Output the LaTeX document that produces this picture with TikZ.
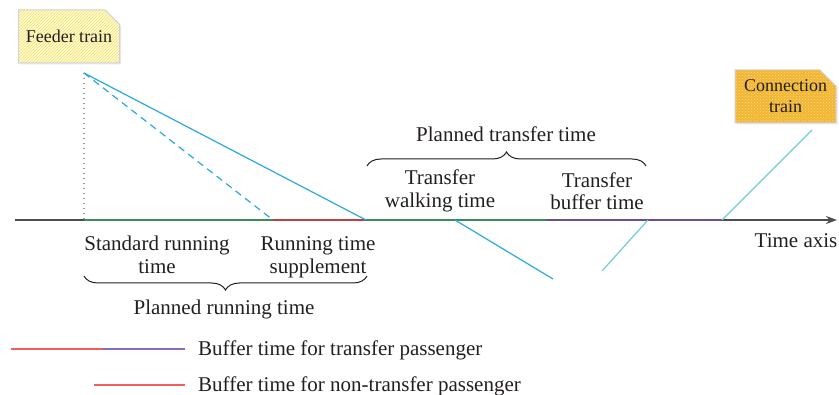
\documentclass[tikz,border=0pt]{standalone}
\usepackage{fontspec}
\setmainfont{Liberation Serif}
\usetikzlibrary{arrows.meta, positioning, shapes.misc, patterns, shadows, decorations.pathreplacing}

\definecolor{ink}{HTML}{231F20}
\definecolor{axisgray}{HTML}{4D4D4D}
\definecolor{rungreen}{HTML}{3C8C5A}
\definecolor{supred}{HTML}{C0403F}
\definecolor{bufpurple}{HTML}{6B4C8C}
\definecolor{feedblue}{HTML}{2AA8E0}
\definecolor{connblue}{HTML}{6CCCE0}
\definecolor{legred}{HTML}{F25C5C}
\definecolor{legpurple}{HTML}{8C6BBF}
\definecolor{feedfill}{HTML}{FFFBD6}
\definecolor{feedhatch}{HTML}{F2E268}
\definecolor{connfill}{HTML}{F2B632}
\definecolor{conndots}{HTML}{F8D98A}

\begin{document}
\begin{tikzpicture}[x=1pt, y=-1pt,
    % Styles for texts, boxes and lines
    txt/.style={align=center, text=ink, inner sep=0pt, font=\fontsize{21}{22.5}\selectfont},
    trainbox/.style={chamfered rectangle, chamfered rectangle corners=north east, chamfered rectangle sep=8pt,
        draw=gray!35, line width=1pt, align=center, text=ink, inner sep=0pt,
        minimum width=101pt, minimum height=53pt, font=\fontsize{18}{21}\selectfont,
        drop shadow={shadow xshift=1.5pt, shadow yshift=-1.5pt, fill=blue!20!gray!30}},
    axisline/.style={line width=2.2pt},
    trainline/.style={line width=1.2pt},
    legline/.style={line width=2pt},
    bracket/.style={decorate, decoration={brace, amplitude=14pt}, line width=1pt, ink}
]
\useasboundingbox (0,0) rectangle (839,395);

% Train boxes
\node[trainbox, preaction={fill=feedfill}, pattern=north east lines, pattern color=feedhatch] (feeder) at (69,36.5) {Feeder train};
\node[trainbox, preaction={fill=connfill}, pattern=crosshatch dots, pattern color=conndots] (conn) at (785.5,96.5) {Connection\\train};

% Points on the time axis
\coordinate (a0) at (15,220);
\coordinate (a1) at (84,220);
\coordinate (a2) at (273,220);
\coordinate (a3) at (366,220);
\coordinate (a4) at (547,220);
\coordinate (a5) at (722,220);
\coordinate (a6) at (837,220);

% Time axis
\draw[axisline, axisgray] (a0) -- (a1);
\draw[axisline, rungreen] (a1) -- (a2);
\draw[axisline, supred] (a2) -- (a3);
\draw[axisline, rungreen] (a3) -- (a4);
\draw[axisline, bufpurple] (a4) -- (a5);
\draw[axisline, axisgray, -{Stealth[length=11pt, width=8pt]}] (a5) -- (a6);

% Feeder train paths
\coordinate (f0) at (84,73);
\draw[gray!80, dash pattern=on 1.3pt off 3.7pt, line width=1.3pt] (f0) -- (a1);
\draw[trainline, feedblue] (f0) -- (a3);
\draw[trainline, feedblue, dashed, dash pattern=on 7pt off 5pt] (f0) -- (a2);

% Walking passengers and connection train
\coordinate (w0) at (455,220);
\coordinate (w1) at (553,279);
\draw[trainline, feedblue] (w0) -- (w1);
\coordinate (c0) at (602,271);
\coordinate (c1) at (648,220);
\coordinate (c2) at (812,130);
\draw[trainline, connblue] (c0) -- (c1);
\draw[trainline, connblue] (a5) -- (c2);

% Labels above the axis
\node[txt] (ptt) at (506,134.5) {Planned transfer time};
\node[txt] (walk) at (440,191) {Transfer\\walking time};
\node[txt] (tbuf) at (597,191) {Transfer\\buffer time};
\coordinate (b0) at (367,166);
\coordinate (b1) at (646,166);
\draw[bracket] (b0) -- (b1);

% Labels below the axis
\node[txt] (axis) at (796,240.5) {Time axis};
\node[txt] (std) at (157,255) {Standard running\\time};
\node[txt] (sup) at (318,257.5) {Running time\\supplement};
\coordinate (b2) at (367,276);
\coordinate (b3) at (84,276);
\draw[bracket] (b2) -- (b3);
\node[txt] (prt) at (224,309) {Planned running time};

% Legend
\coordinate (l1a) at (11,349);
\coordinate (l1b) at (102,349);
\coordinate (l1c) at (185,349);
\draw[legline, legred] (l1a) -- (l1b);
\draw[legline, legpurple] (l1b) -- (l1c);
\node[txt, anchor=west] (leg1) at (198,350) {Buffer time for transfer passenger};
\coordinate (l2a) at (94,385);
\coordinate (l2b) at (185,385);
\draw[legline, legred] (l2a) -- (l2b);
\node[txt, anchor=west] (leg2) at (198,386) {Buffer time for non-transfer passenger};

\end{tikzpicture}
\end{document}
